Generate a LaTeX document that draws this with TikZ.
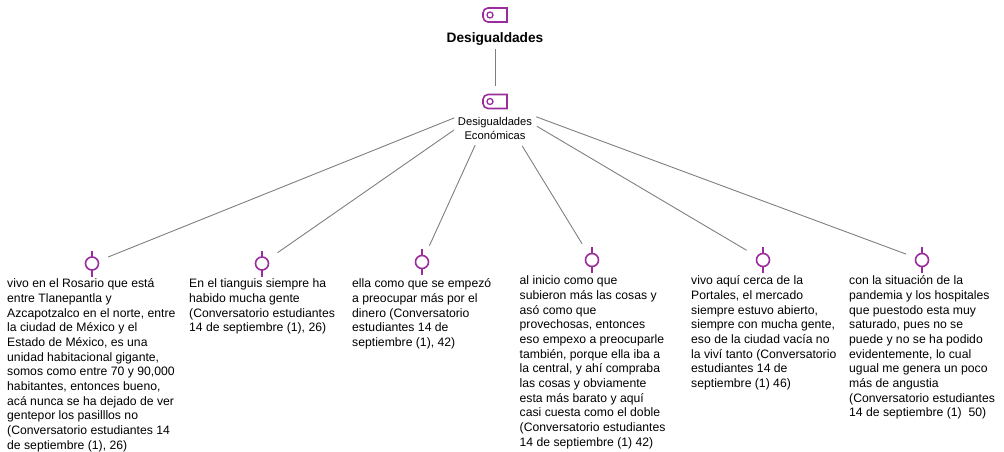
\documentclass[tikz,border=0pt]{standalone}
\usepackage{fontspec}
\setmainfont{Liberation Sans}
\definecolor{iconc}{HTML}{9B2C9E}
\definecolor{connc}{HTML}{7F7F7F}
\newcommand{\tagicon}[2]{%
  \node[hubpt] (#1) at (#2) {};
  \draw[iconline] ([shift={(12,-7)}]#1.center) -- ([shift={(-7,-7)}]#1.center) arc[start angle=90,end angle=180,radius=5pt] -- ([shift={(-12,2)}]#1.center) arc[start angle=180,end angle=270,radius=5pt] -- ([shift={(12,7)}]#1.center) -- cycle;
  \draw[iconline,line width=1.3pt] ([shift={(-5,0)}]#1.center) circle (3pt);
}
\newcommand{\leaficon}[2]{%
  \node[leafdot] (#1) at (#2) {};
  \draw[iconline] (#1.north) -- ++(0,-6.5);
  \draw[iconline] (#1.south) -- ++(0,6.5);
}
\tikzset{
  x=1pt,y=-1pt,
  hubpt/.style={inner sep=0pt,minimum size=0pt,outer sep=0pt},
  iconline/.style={draw=iconc,line width=1.6pt},
  leafdot/.style={circle,draw=iconc,line width=1.6pt,inner sep=0pt,minimum size=13pt,outer sep=0pt},
  conn/.style={draw=connc,line width=0.9pt},
  quote/.style={anchor=north west,align=left,inner sep=0pt,font=\fontsize{12.2pt}{14.67pt}\selectfont,text=black},
  title/.style={anchor=center,align=center,inner sep=0pt,font=\fontsize{13.7pt}{15pt}\selectfont\bfseries},
  sublabel/.style={anchor=center,align=center,inner sep=0pt,font=\fontsize{11.2pt}{14.2pt}\selectfont,text=black}
}
\begin{document}
\begin{tikzpicture}
\useasboundingbox (0,0) rectangle (1004,452);
\tagicon{top}{495,15}
\tagicon{hub}{495,101.5}
\node[title] (toplabel) at (495,38.5) {Desigualdades};
\node[sublabel] (hublabel) at (495,128.5) {Desigualdades\\Económicas};
\leaficon{la}{92,263.5}
\leaficon{lb}{262,263.5}
\leaficon{lc}{422,262}
\leaficon{ld}{592,260}
\leaficon{le}{763,260}
\leaficon{lf}{922,260}
\draw[conn,shorten <=34pt,shorten >=16pt] (top) -- (hub);
\draw[conn,shorten <=44pt,shorten >=11pt] (hub) -- (la);
\draw[conn,shorten <=50pt,shorten >=12.5pt] (hub) -- (lb);
\draw[conn,shorten <=48pt,shorten >=11.5pt] (hub) -- (lc);
\draw[conn,shorten <=52pt,shorten >=12.5pt] (hub) -- (ld);
\draw[conn,shorten <=48.5pt,shorten >=12.5pt] (hub) -- (le);
\draw[conn,shorten <=44pt,shorten >=10.5pt] (hub) -- (lf);
\node[quote] (qa) at (7,278.7) {vivo en el Rosario que está\\entre Tlanepantla y\\Azcapotzalco en el norte, entre\\la ciudad de México y el\\Estado de México, es una\\unidad habitacional gigante,\\somos como entre 70 y 90,000\\habitantes, entonces bueno,\\acá nunca se ha dejado de ver\\gentepor los pasilllos no\\(Conversatorio estudiantes 14\\de septiembre (1), 26)};
\node[quote] (qb) at (189,278.7) {En el tianguis siempre ha\\habido mucha gente\\(Conversatorio estudiantes\\14 de septiembre (1), 26)};
\node[quote] (qc) at (352,278.7) {ella como que se empezó\\a preocupar más por el\\dinero (Conversatorio\\estudiantes 14 de\\septiembre (1), 42)};
\node[quote] (qd) at (519.5,275.7) {al inicio como que\\subieron más las cosas y\\asó como que\\provechosas, entonces\\eso empexo a preocuparle\\también, porque ella iba a\\la central, y ahí compraba\\las cosas y obviamente\\esta más barato y aquí\\casi cuesta como el doble\\(Conversatorio estudiantes\\14 de septiembre (1) 42)};
\node[quote] (qe) at (691,275.7) {vivo aquí cerca de la\\Portales, el mercado\\siempre estuvo abierto,\\siempre con mucha gente,\\eso de la ciudad vacía no\\la viví tanto (Conversatorio\\estudiantes 14 de\\septiembre (1) 46)};
\node[quote] (qf) at (849,275.7) {con la situación de la\\pandemia y los hospitales\\que puestodo esta muy\\saturado, pues no se\\puede y no se ha podido\\evidentemente, lo cual\\ugual me genera un poco\\más de angustia\\(Conversatorio estudiantes\\14 de septiembre (1)~~50)};
\end{tikzpicture}
\end{document}
